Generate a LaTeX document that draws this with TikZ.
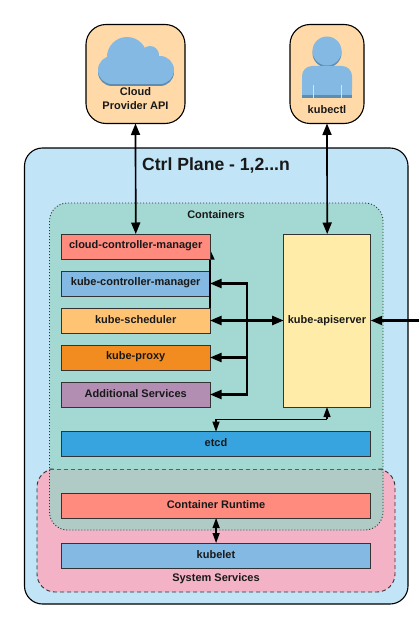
\documentclass[tikz,border=0pt]{standalone}
\usepackage{fontspec}
\setmainfont{Liberation Sans}
\usetikzlibrary{arrows.meta}
\definecolor{edge}{HTML}{333333}
\definecolor{planeblue}{HTML}{C1E4F7}
\definecolor{teal}{HTML}{A4D9D3}
\definecolor{pinkk}{HTML}{F4B2C6}
\definecolor{overlap}{HTML}{B0CAC5}
\definecolor{peach}{HTML}{FFD9A8}
\definecolor{salmon}{HTML}{FF8A7E}
\definecolor{skyb}{HTML}{83B9E3}
\definecolor{skyd}{HTML}{5E8DB2}
\definecolor{orng}{HTML}{FFC374}
\definecolor{dorng}{HTML}{F28C20}
\definecolor{purp}{HTML}{B18EB2}
\definecolor{yell}{HTML}{FFECA8}
\definecolor{etcdb}{HTML}{38A4DF}
\tikzset{
  x=1pt,y=-1pt,
  txt/.style={font=\bfseries\fontsize{11}{14}\selectfont,text=black!90,inner sep=0pt,align=center},
  bx/.style={draw=edge,line width=1pt,anchor=north west,inner sep=0pt,outer sep=0pt,minimum height=25pt,minimum width=148.5pt},
  ext/.style={draw=black,line width=1.1pt,fill=peach,rounded corners=20pt,anchor=north west,inner sep=0pt,outer sep=0pt},
  lnk/.style={draw=black,line width=1.7pt,{Triangle[length=11.5pt,width=9pt]}-{Triangle[length=11.5pt,width=9pt]}},
  lnkb/.style={draw=black,line width=2.1pt,{Triangle[length=11.5pt,width=9pt]}-{Triangle[length=11.5pt,width=9pt]}},
  lnks/.style={draw=black,line width=1.3pt,{Triangle[length=10pt,width=7pt]}-{Triangle[length=10pt,width=7pt]}},
  onearrow/.style={draw=black,line width=1.3pt,-{Triangle[length=10pt,width=7pt]}},
  halfarrow/.style={draw=black,line width=1.3pt,-{Triangle[length=10pt,width=9pt]}},
  onearrowb/.style={draw=black,line width=2.1pt,-{Triangle[length=11.5pt,width=9pt]}},
}
\newcommand{\cloudshape}[1]{%
  \fill[#1] (112,62) rectangle (160,84);
  \fill[#1] (127,57) circle[radius=20pt];
  \fill[#1] (150,55) circle[radius=9pt];
  \fill[#1] (160,70) circle[radius=14pt];
  \fill[#1] (112,70) circle[radius=14pt];
}
\begin{document}
\begin{tikzpicture}
\useasboundingbox (0,0) rectangle (419,623);
% external boxes
\node[ext,minimum width=99pt,minimum height=99pt] (cloud) at (86,24.5) {};
\node[ext,minimum width=74pt,minimum height=99pt] (kctl) at (290,24.5) {};
% cloud icon
\begin{scope}[yshift=-2pt]\cloudshape{skyd}\end{scope}
\cloudshape{skyb}
\node[txt] (cloudlbl) at (135.5,99) {Cloud\\Provider API};
% person icon
\fill[skyd] (327,53) circle[radius=14.5pt];
\fill[skyb] (327,51) circle[radius=14.5pt];
\fill[skyb,rounded corners=10pt] (302,100) -- (302,66) -- (352,66) -- (352,100) -- cycle;
\fill[skyb] (302,90) rectangle (352,96);
\fill[skyd] (302,95.5) rectangle (352,98.5);
\fill[peach] (302,98.5) rectangle (352,101);
\fill[peach] (312.5,85) rectangle (313.8,98.5);
\fill[peach] (341,85) rectangle (342.3,98.5);
\node[txt] (kctllbl) at (327,110) {kubectl};
% plane
\node[draw=black,line width=1.1pt,fill=planeblue,rounded corners=18pt,anchor=north west,minimum width=383.5pt,minimum height=456pt,inner sep=0pt,outer sep=0pt] (plane) at (24.5,148) {};
\node[font=\bfseries\fontsize{17.6}{20}\selectfont,text=black!90,inner sep=0pt] (planelbl) at (216,165) {Ctrl Plane - 1,2...n};
% system services
\path[fill=pinkk,rounded corners=18pt] (37,469) rectangle (395,592);
\node[anchor=north west,minimum width=358pt,minimum height=123pt,inner sep=0pt] (sys) at (37,469) {};
% containers
\path[fill=teal,rounded corners=18pt] (49.5,203) rectangle (383,530);
\begin{scope}
\clip (37,469) rectangle (395,592);
\path[fill=overlap,rounded corners=18pt] (49.5,203) rectangle (383,530);
\end{scope}
\node[anchor=north west,minimum width=333.5pt,minimum height=327pt,inner sep=0pt] (cont) at (49.5,203) {};
\draw[edge,line width=0.9pt,dash pattern=on 4pt off 3pt,rounded corners=18pt] (49.5,469) -- (37,469) -- (37,592) -- (395,592) -- (395,469) -- (383,469);
\draw[edge!70!overlap,line width=0.9pt,dash pattern=on 4pt off 3pt] (49.5,469) -- (383,469);
\draw[edge,line width=0.9pt,dash pattern=on 1pt off 2pt,rounded corners=18pt] (49.5,203) rectangle (383,530);
\node[txt] (contlbl) at (216,214.5) {Containers};
\node[txt] (syslbl) at (216,579) {System Services};
% coordinates
\coordinate (ext) at (419,320.5);
\coordinate (tipc) at (210,249.5);
\coordinate (busP) at (246.7,357.5);
\coordinate (bendE) at (216,419.3);
\coordinate (bendA) at (327,419.3);
% boxes
\node[bx,fill=salmon] (ccm) at (61.5,234) {};
\node[bx,fill=skyb] (kcm) at (61.5,271) {};
\node[bx,fill=orng] (sch) at (61.5,308) {};
\node[bx,fill=dorng] (prx) at (61.5,345) {};
\node[bx,fill=purp] (add) at (61.5,382) {};
\node[bx,fill=yell,minimum width=87pt,minimum height=173pt] (api) at (283.7,234) {};
\node[bx,fill=etcdb,minimum width=309.2pt,minimum height=24.5pt] (etcd) at (61.5,431.7) {};
\node[bx,fill=salmon,minimum width=309.2pt] (run) at (61.5,493) {};
\node[bx,fill=skyb,minimum width=309.2pt] (kub) at (61.5,543) {};
% labels
\node[txt] at (135.7,246) {cloud-controller-manager};
\node[txt] at (135.7,283) {kube-controller-manager};
\node[txt] at (135.7,320) {kube-scheduler};
\node[txt] at (135.7,357) {kube-proxy};
\node[txt] at (135.7,394) {Additional Services};
\node[txt] at (327,320.5) {kube-apiserver};
\node[txt] at (216,443) {etcd};
\node[txt] at (216,505) {Container Runtime};
\node[txt] at (216,554.5) {kubelet};
% connectors
\draw[lnk] (cloud.south) -- (ccm.north);
\draw[lnk] (kctl.south) -- (api.north);
\draw[onearrowb] (ext) -- (api.east);
\draw[lnkb] (sch.east) -- (api.west);
\draw[halfarrow] (sch.north east) -- (tipc);
\draw[onearrowb] (busP) |- (kcm.east);
\draw[onearrowb] (busP) -- (prx.east);
\draw[onearrowb] (busP) |- (add.east);
\draw[onearrow] (bendA) -- (api.south -| bendA);
\draw[onearrow] (bendA) -- (bendE) -- (bendE |- etcd.north);
\draw[lnks] (run.south) -- (kub.north);
% re-cover left half of the partial arrow, as in the reference
\fill[salmon] (209.5,246) rectangle (204,258.5);
\draw[edge,line width=1pt] (204,234) -- (210,234) -- (210,259) -- (204,259);
\end{tikzpicture}
\end{document}
